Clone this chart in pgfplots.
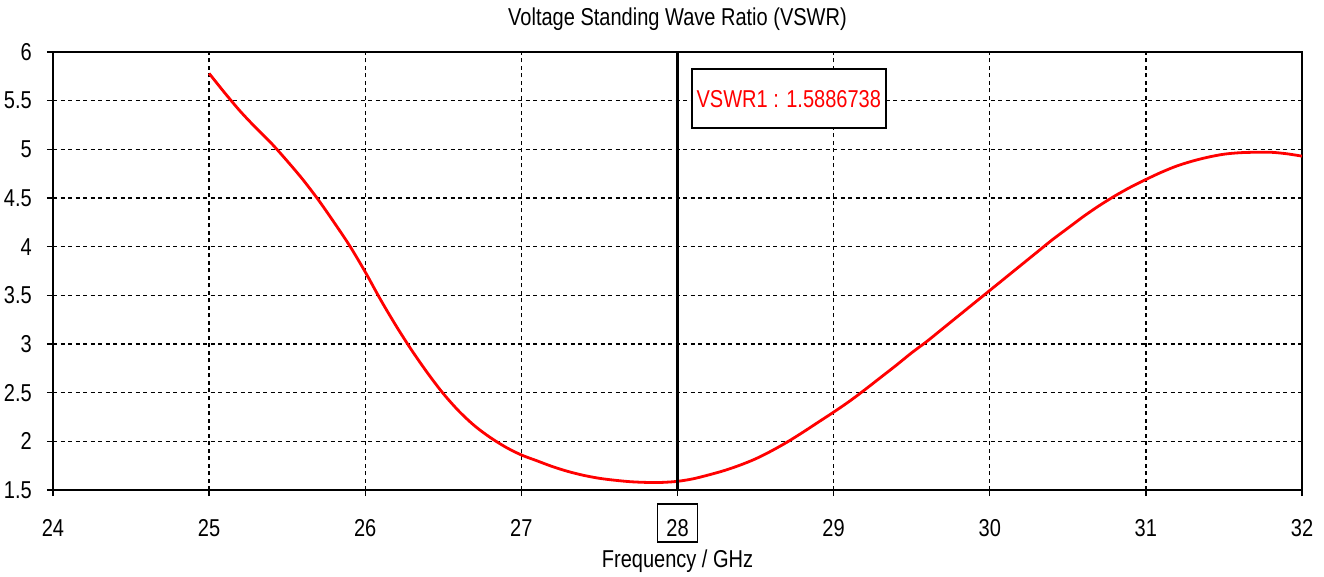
\documentclass[border=0pt]{standalone}
\usepackage{fontspec}
\setmainfont{Liberation Sans}[FakeStretch=0.82]
\usepackage{pgfplots}
\pgfplotsset{compat=1.18}
\begin{document}
\fontsize{24.5}{28}\selectfont
\begin{tikzpicture}
\begin{axis}[
  scale only axis,
  width=1249bp, height=438bp,
  xmin=24, xmax=32, ymin=1.5, ymax=6,
  xtick={24,25,...,32},
  ytick={1.5,2,2.5,3,3.5,4,4.5,5,5.5,6},
  yticklabels={1.5,2,2.5,3,3.5,4,4.5,5,5.5,6},
  xticklabels={24,25,26,27,28,29,30,31,32},
  xtick pos=bottom, ytick pos=left,
  tick align=outside,
  major tick length=6bp,
  tick style={black, line width=1.3bp},
  axis line style={black, line width=1.6bp},
  grid=major,
  grid style={black, line width=1.4bp, dash pattern=on 4bp off 3.5bp},
  xticklabel style={anchor=center, inner sep=0pt, yshift=-32bp},
  yticklabel style={anchor=east, inner sep=0pt, xshift=-15bp},
  title={Voltage Standing Wave Ratio (VSWR)},
  title style={at={(axis description cs:0.5,1)}, anchor=center, inner sep=0pt, yshift=27bp},
  xlabel={Frequency / GHz},
  xlabel style={at={(axis description cs:0.5,0)}, anchor=center, inner sep=0pt, yshift=-71bp},
  clip=false,
]
\addplot[red, line width=2.8bp, smooth] coordinates {
(25.0,5.78) (25.1,5.58) (25.2,5.39) (25.3,5.22) (25.4,5.06)
(25.5,4.88) (25.6,4.69) (25.7,4.48) (25.8,4.25) (25.9,4.01)
(26.0,3.74) (26.1,3.45) (26.2,3.18) (26.3,2.93) (26.4,2.70)
(26.5,2.49) (26.6,2.31) (26.7,2.16) (26.8,2.04) (26.9,1.94)
(27.0,1.86) (27.1,1.80) (27.2,1.74) (27.3,1.69) (27.4,1.65)
(27.5,1.62) (27.6,1.60) (27.7,1.585) (27.8,1.578) (27.9,1.578)
(28.0,1.589) (28.1,1.615) (28.2,1.655) (28.3,1.70) (28.4,1.755)
(28.5,1.82) (28.6,1.90) (28.7,1.99) (28.8,2.09) (28.9,2.195)
(29.0,2.30) (29.1,2.41) (29.2,2.53) (29.3,2.655) (29.4,2.78)
(29.5,2.91) (29.6,3.03) (29.7,3.16) (29.8,3.29) (29.9,3.42)
(30.0,3.55) (30.1,3.68) (30.2,3.81) (30.3,3.94) (30.4,4.07)
(30.5,4.19) (30.6,4.31) (30.7,4.42) (30.8,4.52) (30.9,4.61)
(31.0,4.69) (31.1,4.765) (31.2,4.83) (31.3,4.88) (31.4,4.92)
(31.5,4.95) (31.6,4.965) (31.7,4.97) (31.8,4.97) (31.9,4.955)
(32.0,4.93)
};
\addplot[black, line width=2.2bp] coordinates {(28,1.5) (28,6)};
\node[draw=black, fill=white, line width=2bp, anchor=north west, text=red,
  minimum width=194bp, minimum height=59bp, inner sep=0pt]
  at (axis cs:28.085,5.833) {VSWR1 : 1.5886738};
\draw[black, line width=1.3bp] ([xshift=-20bp,yshift=-14bp]axis cs:28,1.5)
  rectangle ([xshift=20bp,yshift=-52bp]axis cs:28,1.5);
\end{axis}
\path[use as bounding box] (-53bp,-87bp) rectangle (1271bp,490bp);
\end{tikzpicture}
\end{document}
